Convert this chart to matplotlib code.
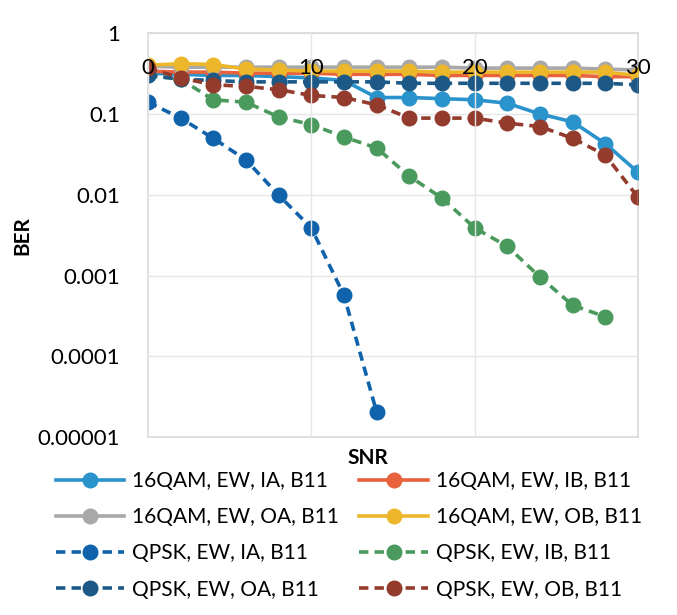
import matplotlib
matplotlib.use("Agg")
import matplotlib.pyplot as plt

# SNR axis (dB), one point every 2 dB
snr = [0, 2, 4, 6, 8, 10, 12, 14, 16, 18, 20, 22, 24, 26, 28, 30]

# BER values
ber_16qam_ia = [0.32, 0.31, 0.30, 0.30, 0.29, 0.28, 0.26, 0.16, 0.16, 0.155, 0.15,
                0.136, 0.10, 0.08, 0.043, 0.019]
ber_16qam_ib = [0.34, 0.33, 0.33, 0.32, 0.32, 0.32, 0.31, 0.31, 0.31, 0.30, 0.30,
                0.30, 0.30, 0.30, 0.29, 0.29]
ber_16qam_oa = [0.39, 0.38, 0.38, 0.38, 0.38, 0.38, 0.38, 0.38, 0.38, 0.38, 0.37,
                0.37, 0.37, 0.37, 0.36, 0.35]
ber_16qam_ob = [0.40, 0.42, 0.41, 0.36, 0.35, 0.34, 0.34, 0.34, 0.34, 0.33, 0.33,
                0.33, 0.33, 0.33, 0.33, 0.30]
snr_qpsk_ia = [0, 2, 4, 6, 8, 10, 12, 14]
ber_qpsk_ia = [0.14, 0.089, 0.05, 0.027, 0.0099, 0.0039, 0.00057, 0.0000204]
snr_qpsk_ib = [0, 2, 4, 6, 8, 10, 12, 14, 16, 18, 20, 22, 24, 26, 28]
ber_qpsk_ib = [0.30, 0.27, 0.15, 0.14, 0.092, 0.074, 0.052, 0.038, 0.017, 0.0091,
               0.0039, 0.0023, 0.00096, 0.00043, 0.00031]
ber_qpsk_oa = [0.30, 0.27, 0.26, 0.25, 0.25, 0.25, 0.25, 0.25, 0.24, 0.24, 0.24,
               0.24, 0.24, 0.24, 0.24, 0.23]
ber_qpsk_ob = [0.37, 0.28, 0.23, 0.22, 0.20, 0.17, 0.16, 0.13, 0.089, 0.089, 0.089,
               0.077, 0.07, 0.05, 0.031, 0.0093]

y_ticks = [1, 0.1, 0.01, 0.001, 0.0001, 0.00001]
y_tick_labels = ["1", "0.1", "0.01", "0.001", "0.0001", "0.00001"]
x_ticks = [0, 10, 20, 30]

plt.rcParams["font.family"] = ["Lato", "DejaVu Sans"]

fig = plt.figure(figsize=(6.77, 6.15), dpi=100)
ax = fig.add_axes([0.2186, 0.289, 0.7238, 0.657])

dash = (0, (2.6, 1.7))
series = [
    (snr, ber_16qam_ia, "16QAM, EW, IA, B11", "#2b93cb", "-"),
    (snr, ber_16qam_ib, "16QAM, EW, IB, B11", "#e8623e", "-"),
    (snr, ber_16qam_oa, "16QAM, EW, OA, B11", "#a8a8a8", "-"),
    (snr, ber_16qam_ob, "16QAM, EW, OB, B11", "#ecb72a", "-"),
    (snr_qpsk_ia, ber_qpsk_ia, "QPSK, EW, IA, B11", "#1063ab", dash),
    (snr_qpsk_ib, ber_qpsk_ib, "QPSK, EW, IB, B11", "#4b9a5d", dash),
    (snr, ber_qpsk_oa, "QPSK, EW, OA, B11", "#1d5987", dash),
    (snr, ber_qpsk_ob, "QPSK, EW, OB, B11", "#933b2d", dash),
]
draw_order = [2, 3, 1, 0, 6, 7, 5, 4]
handles = {}
for i in draw_order:
    x, y, label, color, ls = series[i]
    line, = ax.plot(x, y, linestyle=ls, color=color, linewidth=2.6, marker="o",
                    markersize=10.5, label=label, zorder=3 + i * 0.01)
    handles[i] = line

ax.set_yscale("log")
ax.set_ylim(0.00001, 1)
ax.set_xlim(0, 30)
ax.set_yticks(y_ticks)
ax.set_yticklabels(y_tick_labels)
ax.minorticks_off()
ax.set_xticks(x_ticks)
ax.xaxis.tick_top()
ax.tick_params(axis="x", length=0, pad=-32, labelsize=16)
ax.tick_params(axis="y", length=0, pad=20, labelsize=16)
ax.xaxis.set_zorder(5)

ax.grid(True, color="#e6e6e6", linewidth=1.0)
for s in ax.spines.values():
    s.set_color("#d9d9d9")
    s.set_linewidth(1.2)

ax.set_ylabel("BER", fontsize=15, fontweight="bold", labelpad=4)
fig.text(0.543, 0.255, "SNR", fontsize=15, fontweight="bold", ha="center", va="center")

# legend reads row by row: IA | IB, OA | OB
legend_order = [0, 2, 4, 6, 1, 3, 5, 7]
fig.legend([handles[i] for i in legend_order], [series[i][2] for i in legend_order],
           loc="upper left", bbox_to_anchor=(0.07, 0.248), ncol=2, frameon=False,
           fontsize=15, handlelength=3.3, handletextpad=0.35, columnspacing=1.0,
           labelspacing=0.78, borderaxespad=0)

fig.savefig("out.png", dpi=100)
